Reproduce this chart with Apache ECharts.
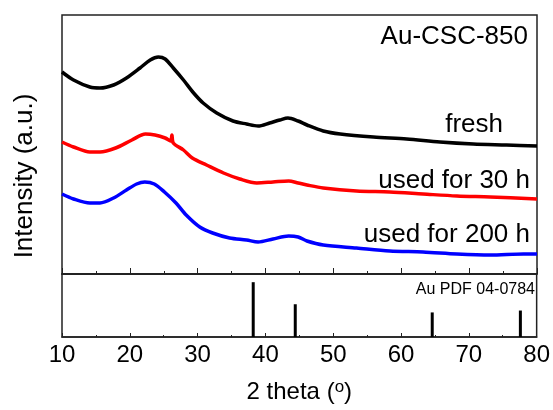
<!DOCTYPE html>
<html>
<head>
<meta charset="utf-8">
<script src="https://cdn.jsdelivr.net/npm/echarts@6/dist/echarts.min.js"></script>
<style>html,body{margin:0;padding:0;background:#fff}#c{width:553px;height:410px}</style>
</head>
<body>
<div id="c"></div>
<script>
// 2 theta values (degrees) and intensities (arbitrary units, offset stacked)
const freshX = [10, 11.7, 14.1, 15.6, 17.6, 19.5, 21.5, 23, 24.2, 25.2, 26.4, 27.9, 29.4, 30.8, 32.8, 35.2, 37.2, 38.9, 40.6, 42.1, 43.3, 44.8, 46.1, 48.5, 51, 55.9, 60.8, 65.7, 70.6, 75.5, 80];
const freshY = [202, 194, 187, 186, 189, 196, 206, 214, 217, 215, 206, 194, 181, 171, 161, 153, 150, 148, 151, 154, 156, 153, 149, 143, 140, 137, 135, 132, 130, 129, 128];
const used30X = [10, 11.7, 14.1, 15.6, 17.9, 20.3, 22.3, 23.7, 25.2, 26.0, 26.2, 26.4, 27.9, 29.2, 31.3, 33.8, 36.2, 38.7, 41.1, 43.4, 44.8, 46.1, 48.5, 53.4, 58.3, 63.2, 68.2, 73.1, 80];
const used30Y = [132, 127, 122, 122, 126, 134, 140, 139, 136, 133, 139, 131, 124, 116, 109, 101, 95, 91, 92, 93, 91, 89, 86, 83, 82, 80, 78, 77, 75];
const used200X = [10, 11.7, 14.1, 15.6, 17.6, 19.5, 21, 22.2, 23.6, 25.1, 26.8, 28.3, 30.3, 32.2, 34.7, 37.2, 38.9, 41.1, 43.4, 44.8, 46.1, 48.5, 53.4, 58.3, 63.2, 68.2, 73.1, 78, 80];
const used200Y = [80, 75, 71, 71, 76, 84, 90, 92, 90, 82, 71, 59, 47, 41, 36, 34, 32, 35, 38, 37, 33, 29, 26, 23, 22, 20, 19, 20, 20];
// Au PDF 04-0784 reference peaks
const refX = [38.2, 44.4, 64.6, 77.6];
const refY = [87, 52, 39, 42];
const xTicks = [10, 20, 30, 40, 50, 60, 70, 80];

const zip = (a, b) => a.map((v, i) => [v, b[i]]);
const FONT = 'Liberation Sans, Arial, sans-serif';

const chart = echarts.init(document.getElementById('c'));
chart.setOption({
  animation: false,
  grid: [
    {left: 62, right: 16, top: 15, height: 259, show: true, borderColor: '#222', borderWidth: 1.5},
    {left: 62, right: 16, top: 274, height: 63, show: true, borderColor: '#222', borderWidth: 1.5}
  ],
  xAxis: [
    {gridIndex: 0, type: 'value', min: xTicks[0], max: xTicks[xTicks.length - 1], interval: 10,
     axisLine: {show: true, lineStyle: {color: '#222', width: 1.5}},
     axisTick: {show: true, inside: true, length: 6, lineStyle: {color: '#222'}},
     minorTick: {show: true, splitNumber: 2, length: 3, lineStyle: {color: '#222'}},
     axisLabel: {show: false}, splitLine: {show: false}},
    {gridIndex: 1, type: 'value', min: xTicks[0], max: xTicks[xTicks.length - 1], interval: 10,
     axisLine: {show: true, lineStyle: {color: '#222', width: 1.5}},
     axisTick: {show: true, inside: true, length: 4, lineStyle: {color: '#222'}},
     minorTick: {show: true, splitNumber: 2, length: 2, lineStyle: {color: '#222'}},
     axisLabel: {show: true, fontSize: 24, color: '#000', fontFamily: FONT, margin: 6},
     splitLine: {show: false},
     name: '{a|2 theta (}{s|o}{a|)}', nameLocation: 'middle', nameGap: 42,
     nameTextStyle: {rich: {
       a: {fontSize: 24, fontFamily: FONT, color: '#000', lineHeight: 26},
       s: {fontSize: 17, fontFamily: FONT, color: '#000', verticalAlign: 'top', lineHeight: 22}
     }}}
  ],
  yAxis: [
    {gridIndex: 0, type: 'value', min: 0, max: 259, show: false},
    {gridIndex: 1, type: 'value', min: 0, max: 100, show: false}
  ],
  series: [
    {type: 'line', xAxisIndex: 0, yAxisIndex: 0, data: zip(freshX, freshY), smooth: 0.3, showSymbol: false,
     lineStyle: {color: '#000', width: 3.5}},
    {type: 'line', xAxisIndex: 0, yAxisIndex: 0, data: zip(used30X, used30Y), smooth: 0.3, showSymbol: false,
     lineStyle: {color: '#ff0000', width: 3.5}},
    {type: 'line', xAxisIndex: 0, yAxisIndex: 0, data: zip(used200X, used200Y), smooth: 0.3, showSymbol: false,
     lineStyle: {color: '#0000ff', width: 3.5}},
    {type: 'bar', xAxisIndex: 1, yAxisIndex: 1, data: zip(refX, refY), barWidth: 3,
     itemStyle: {color: '#000'}}
  ],
  graphic: [
    {type: 'text', x: 528, y: 37, style: {text: 'Au-CSC-850', fontSize: 26, fontFamily: FONT, fill: '#000', textAlign: 'right', textVerticalAlign: 'middle'}},
    {type: 'text', x: 503, y: 125, style: {text: 'fresh', fontSize: 26, fontFamily: FONT, fill: '#000', textAlign: 'right', textVerticalAlign: 'middle'}},
    {type: 'text', x: 530, y: 181, style: {text: 'used for 30 h', fontSize: 26, fontFamily: FONT, fill: '#000', textAlign: 'right', textVerticalAlign: 'middle'}},
    {type: 'text', x: 530, y: 235, style: {text: 'used for 200 h', fontSize: 26, fontFamily: FONT, fill: '#000', textAlign: 'right', textVerticalAlign: 'middle'}},
    {type: 'text', x: 535, y: 290, style: {text: 'Au PDF 04-0784', fontSize: 16, fontFamily: FONT, fill: '#000', textAlign: 'right', textVerticalAlign: 'middle'}},
    {type: 'text', x: 25, y: 176, rotation: Math.PI / 2, style: {text: 'Intensity (a.u.)', fontSize: 26, fontFamily: FONT, fill: '#000', textAlign: 'center', textVerticalAlign: 'middle'}}
  ]
});
</script>
</body>
</html>
